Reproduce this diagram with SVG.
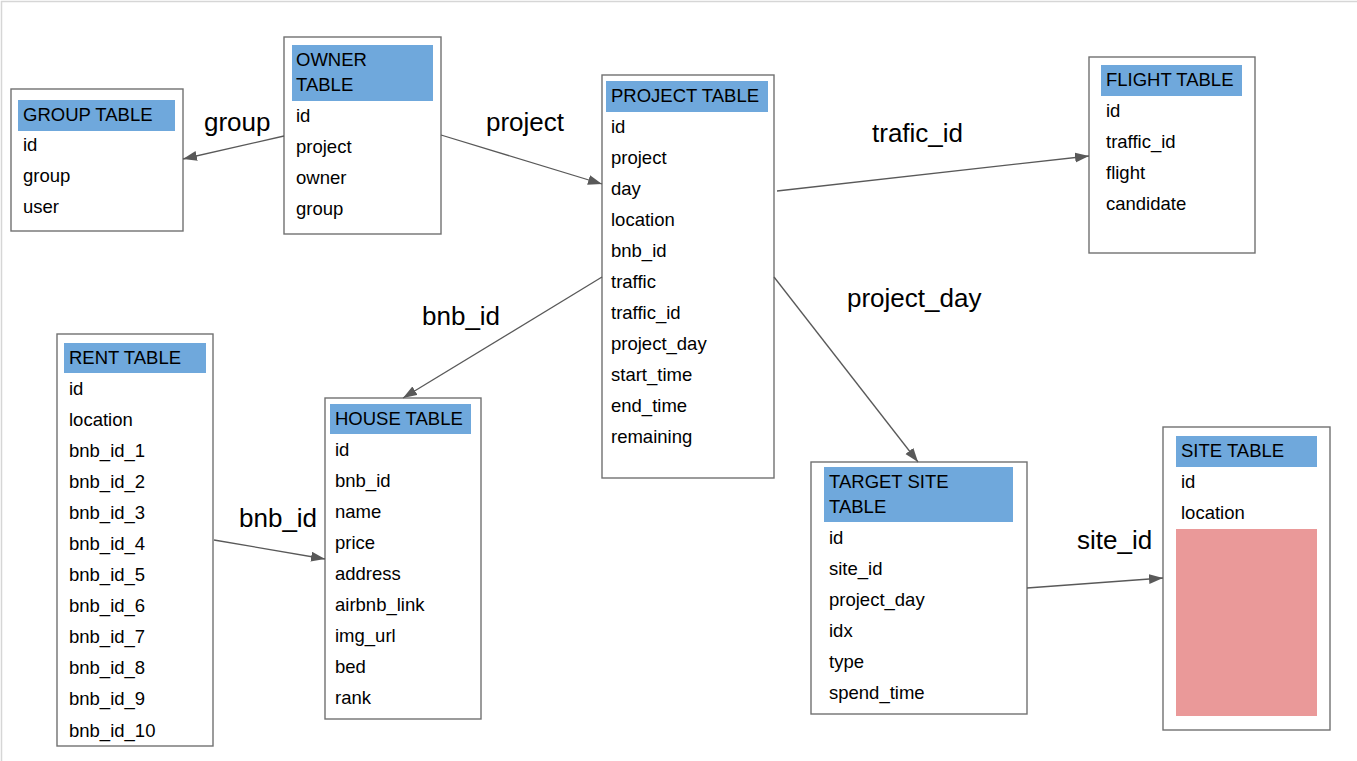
<svg xmlns="http://www.w3.org/2000/svg" width="1357" height="761" viewBox="0 0 1357 761">
<style>
.box{fill:#fff;stroke:#717171;stroke-width:1.4}
.hdr{fill:#6fa8dc}
.t{font-family:"Liberation Sans",Arial,sans-serif;font-size:18.5px;fill:#000}
.lbl{font-family:"Liberation Sans",Arial,sans-serif;font-size:26px;fill:#000}
.edge{stroke:#595959;stroke-width:1.3;fill:none;marker-end:url(#arr)}
</style>
<defs>
<marker id="arr" markerUnits="userSpaceOnUse" markerWidth="15" markerHeight="12" refX="14" refY="5" orient="auto">
<path d="M0,0 L14,5 L0,10 z" fill="#595959"/>
</marker>
</defs>
<rect width="1357" height="761" fill="#fff"/>
<path d="M1.5,761 V1.5 H1357" fill="none" stroke="#d6d6d6" stroke-width="1.5"/>

<g id="group-table">
<rect class="box" x="11" y="89" width="172" height="142"/>
<rect class="hdr" x="18" y="100" width="157" height="31"/>
<text class="t" x="23" y="121">GROUP TABLE</text>
<text class="t" x="23" y="151">id</text>
<text class="t" x="23" y="182">group</text>
<text class="t" x="23" y="213">user</text>
</g>

<g id="owner-table">
<rect class="box" x="284" y="37" width="157" height="197"/>
<rect class="hdr" x="292" y="45" width="141" height="56"/>
<text class="t" x="296" y="66">OWNER</text>
<text class="t" x="296" y="91">TABLE</text>
<text class="t" x="296" y="122">id</text>
<text class="t" x="296" y="153">project</text>
<text class="t" x="296" y="184">owner</text>
<text class="t" x="296" y="215">group</text>
</g>

<g id="project-table">
<rect class="box" x="602" y="75" width="172" height="403"/>
<rect class="hdr" x="606" y="81" width="162" height="31"/>
<text class="t" x="611" y="102">PROJECT TABLE</text>
<text class="t" x="611" y="133">id</text>
<text class="t" x="611" y="164">project</text>
<text class="t" x="611" y="195">day</text>
<text class="t" x="611" y="226">location</text>
<text class="t" x="611" y="257">bnb_id</text>
<text class="t" x="611" y="288">traffic</text>
<text class="t" x="611" y="319">traffic_id</text>
<text class="t" x="611" y="350">project_day</text>
<text class="t" x="611" y="381">start_time</text>
<text class="t" x="611" y="412">end_time</text>
<text class="t" x="611" y="443">remaining</text>
</g>

<g id="flight-table">
<rect class="box" x="1089" y="57" width="166" height="196"/>
<rect class="hdr" x="1101" y="65" width="141" height="31"/>
<text class="t" x="1106" y="86">FLIGHT TABLE</text>
<text class="t" x="1106" y="117">id</text>
<text class="t" x="1106" y="148">traffic_id</text>
<text class="t" x="1106" y="179">flight</text>
<text class="t" x="1106" y="210">candidate</text>
</g>

<g id="rent-table">
<rect class="box" x="57" y="334" width="156" height="412"/>
<rect class="hdr" x="64" y="343" width="142" height="30"/>
<text class="t" x="69" y="364">RENT TABLE</text>
<text class="t" x="69" y="395">id</text>
<text class="t" x="69" y="426">location</text>
<text class="t" x="69" y="457">bnb_id_1</text>
<text class="t" x="69" y="488">bnb_id_2</text>
<text class="t" x="69" y="519">bnb_id_3</text>
<text class="t" x="69" y="550">bnb_id_4</text>
<text class="t" x="69" y="581">bnb_id_5</text>
<text class="t" x="69" y="612">bnb_id_6</text>
<text class="t" x="69" y="643">bnb_id_7</text>
<text class="t" x="69" y="674">bnb_id_8</text>
<text class="t" x="69" y="705">bnb_id_9</text>
<text class="t" x="69" y="737">bnb_id_10</text>
</g>

<g id="house-table">
<rect class="box" x="325" y="398" width="156" height="321"/>
<rect class="hdr" x="330" y="404" width="141" height="30"/>
<text class="t" x="335" y="425">HOUSE TABLE</text>
<text class="t" x="335" y="456">id</text>
<text class="t" x="335" y="487">bnb_id</text>
<text class="t" x="335" y="518">name</text>
<text class="t" x="335" y="549">price</text>
<text class="t" x="335" y="580">address</text>
<text class="t" x="335" y="611">airbnb_link</text>
<text class="t" x="335" y="642">img_url</text>
<text class="t" x="335" y="673">bed</text>
<text class="t" x="335" y="704">rank</text>
</g>

<g id="target-site-table">
<rect class="box" x="811" y="462" width="216" height="252"/>
<rect class="hdr" x="824" y="467" width="189" height="55"/>
<text class="t" x="829" y="488">TARGET SITE</text>
<text class="t" x="829" y="513">TABLE</text>
<text class="t" x="829" y="544">id</text>
<text class="t" x="829" y="575">site_id</text>
<text class="t" x="829" y="606">project_day</text>
<text class="t" x="829" y="637">idx</text>
<text class="t" x="829" y="668">type</text>
<text class="t" x="829" y="699">spend_time</text>
</g>

<g id="site-table">
<rect class="box" x="1163" y="427" width="167" height="303"/>
<rect class="hdr" x="1176" y="436" width="141" height="31"/>
<text class="t" x="1181" y="457">SITE TABLE</text>
<text class="t" x="1181" y="488">id</text>
<text class="t" x="1181" y="519">location</text>
<rect x="1176" y="529" width="141" height="187" fill="#ea9999"/>
</g>

<g id="connectors">
<line class="edge" x1="284" y1="136" x2="183" y2="159"/>
<line class="edge" x1="441" y1="135" x2="602" y2="184"/>
<line class="edge" x1="777" y1="191" x2="1089" y2="156"/>
<line class="edge" x1="602" y1="277" x2="403" y2="398"/>
<line class="edge" x1="774" y1="277" x2="918" y2="462"/>
<line class="edge" x1="214" y1="540" x2="325" y2="559"/>
<line class="edge" x1="1027" y1="588" x2="1163" y2="578"/>
<text class="lbl" x="204" y="131">group</text>
<text class="lbl" x="486" y="131">project</text>
<text class="lbl" x="872" y="142">trafic_id</text>
<text class="lbl" x="422" y="325">bnb_id</text>
<text class="lbl" x="847" y="307">project_day</text>
<text class="lbl" x="239" y="527">bnb_id</text>
<text class="lbl" x="1077" y="549">site_id</text>
</g>
</svg>
